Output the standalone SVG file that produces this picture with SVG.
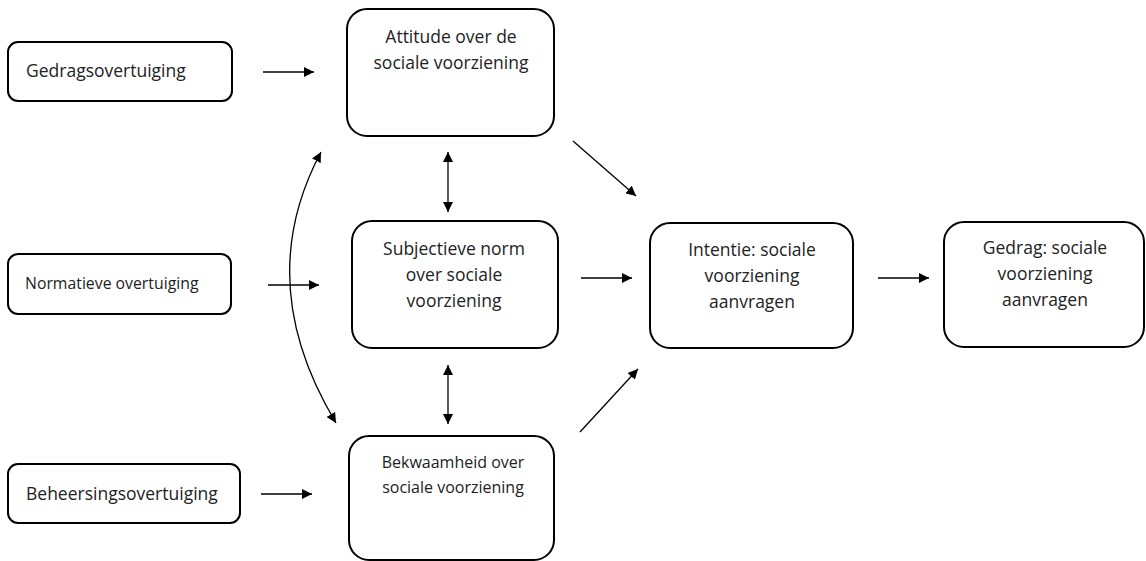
<svg xmlns="http://www.w3.org/2000/svg" width="1146" height="561" viewBox="0 0 1146 561">
<defs>
<marker id="ah" viewBox="0 0 10 10" refX="10" refY="5" markerWidth="10" markerHeight="10" markerUnits="userSpaceOnUse" orient="auto-start-reverse">
<path d="M0,0 L10,5 L0,10 Z" fill="#000"/>
</marker>
<style>
.box{fill:#fff;stroke:#000;stroke-width:2}
.t{font-family:"Open Sans","Liberation Sans",sans-serif;fill:#222}
.c{text-anchor:middle}
.ln{fill:none;stroke:#000;stroke-width:1.3}
</style>
</defs>
<rect width="1146" height="561" fill="#fff"/>
<g id="gedragsovertuiging">
<rect class="box" x="8" y="42" width="224" height="59" rx="10"/>
<text class="t" x="26" y="77" font-size="17.5">Gedragsovertuiging</text>
</g>
<g id="normatieve">
<rect class="box" x="8" y="254" width="223" height="60" rx="10"/>
<text class="t" x="25" y="289" font-size="15.8">Normatieve overtuiging</text>
</g>
<g id="beheersingsovertuiging">
<rect class="box" x="8" y="464" width="232" height="59" rx="10"/>
<text class="t" x="26" y="500" font-size="17.5">Beheersingsovertuiging</text>
</g>
<g id="attitude">
<rect class="box" x="347" y="9" width="207" height="127" rx="20"/>
<text class="t c" font-size="17.5"><tspan x="451" y="43">Attitude over de</tspan><tspan x="451" y="69">sociale voorziening</tspan></text>
</g>
<g id="subjectieve">
<rect class="box" x="352" y="221" width="206" height="127" rx="20"/>
<text class="t c" font-size="17.5"><tspan x="454" y="255">Subjectieve norm</tspan><tspan x="454" y="281">over sociale</tspan><tspan x="454" y="307">voorziening</tspan></text>
</g>
<g id="bekwaamheid">
<rect class="box" x="349" y="436" width="205" height="124" rx="20"/>
<text class="t c" font-size="16"><tspan x="453" y="468">Bekwaamheid over</tspan><tspan x="453" y="493">sociale voorziening</tspan></text>
</g>
<g id="intentie">
<rect class="box" x="650" y="223" width="203" height="125" rx="20"/>
<text class="t c" font-size="17.5"><tspan x="752" y="256">Intentie: sociale</tspan><tspan x="752" y="282">voorziening</tspan><tspan x="752" y="308">aanvragen</tspan></text>
</g>
<g id="gedrag">
<rect class="box" x="944" y="222" width="200" height="125" rx="20"/>
<text class="t c" font-size="17.5"><tspan x="1045" y="254">Gedrag: sociale</tspan><tspan x="1045" y="280">voorziening</tspan><tspan x="1045" y="306">aanvragen</tspan></text>
</g>
<g id="connectors">
<line class="ln" x1="263" y1="72" x2="314" y2="72" marker-end="url(#ah)"/>
<line class="ln" x1="268" y1="285" x2="319" y2="285" marker-end="url(#ah)"/>
<line class="ln" x1="261" y1="494" x2="312" y2="494" marker-end="url(#ah)"/>
<path class="ln" d="M321,152 Q251.5,282.5 336,423" marker-start="url(#ah)" marker-end="url(#ah)"/>
<line class="ln" x1="448" y1="152" x2="448" y2="212" marker-start="url(#ah)" marker-end="url(#ah)"/>
<line class="ln" x1="448" y1="365" x2="448" y2="424" marker-start="url(#ah)" marker-end="url(#ah)"/>
<line class="ln" x1="573" y1="141" x2="636" y2="196" marker-end="url(#ah)"/>
<line class="ln" x1="581" y1="278" x2="632" y2="278" marker-end="url(#ah)"/>
<line class="ln" x1="580" y1="432" x2="638" y2="369" marker-end="url(#ah)"/>
<line class="ln" x1="878" y1="278" x2="929" y2="278" marker-end="url(#ah)"/>
</g>
</svg>
